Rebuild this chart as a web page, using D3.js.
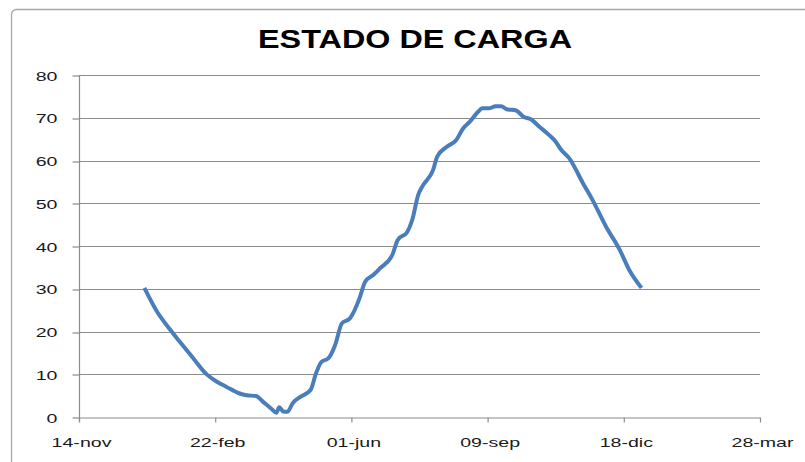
<!DOCTYPE html>
<html>
<head>
<meta charset="utf-8">
<script src="https://cdn.jsdelivr.net/npm/d3@7"></script>
<style>
  html, body { margin: 0; padding: 0; background: #fff; }
  svg { display: block; }
</style>
</head>
<body>
<script>
const title = 'ESTADO DE CARGA';

// x axis ticks (every 100 days)
const tickDates = ['2007-11-14', '2008-02-22', '2008-06-01', '2008-09-09', '2008-12-18', '2009-03-28'];
const tickLabels = ['14-nov', '22-feb', '01-jun', '09-sep', '18-dic', '28-mar'];
const yTicks = [0, 10, 20, 30, 40, 50, 60, 70, 80];

// state of charge
const dates = [
  '2008-01-01', '2008-01-10', '2008-01-20', '2008-01-27', '2008-02-07', '2008-02-15', '2008-02-23',
  '2008-03-01', '2008-03-11', '2008-03-16', '2008-03-23', '2008-03-28', '2008-04-03', '2008-04-07',
  '2008-04-09', '2008-04-12', '2008-04-15', '2008-04-19', '2008-04-24', '2008-05-02', '2008-05-06',
  '2008-05-10', '2008-05-15', '2008-05-20', '2008-05-25', '2008-05-31', '2008-06-07', '2008-06-11',
  '2008-06-17', '2008-06-22', '2008-07-01', '2008-07-05', '2008-07-12', '2008-07-16', '2008-07-20',
  '2008-07-23', '2008-07-31', '2008-08-03', '2008-08-10', '2008-08-17', '2008-08-22', '2008-08-27',
  '2008-09-02', '2008-09-05', '2008-09-10', '2008-09-15', '2008-09-19', '2008-09-23', '2008-09-30',
  '2008-10-05', '2008-10-11', '2008-10-17', '2008-10-24', '2008-10-29', '2008-11-02', '2008-11-08',
  '2008-11-18', '2008-11-25', '2008-12-05', '2008-12-15', '2008-12-22', '2008-12-31'
];
const values = [
  30.2, 24.8, 20.4, 17.6, 13.3, 10.2, 8.3,
  7.1, 5.5, 5.1, 4.9, 3.6, 2.0, 1.0,
  2.3, 1.3, 1.2, 3.3, 4.6, 6.3, 10.2,
  12.9, 13.7, 16.8, 21.9, 23.1, 27.8, 31.6,
  33.2, 34.8, 37.9, 41.4, 43.3, 46.5, 51.9,
  53.9, 57.8, 60.9, 63.2, 64.8, 67.5, 69.1,
  71.4, 72.2, 72.2, 72.7, 72.7, 72.0, 71.7,
  70.3, 69.6, 67.9, 66.0, 64.4, 62.5, 60.5,
  54.7, 50.8, 44.5, 39.1, 34.4, 30.2
];

const width = 805;
const height = 462;
const margin = { top: 75, right: 45, bottom: 45, left: 79 };
const LABEL_STRETCH = 1.45;

const parse = d3.utcParse('%Y-%m-%d');
const data = dates.map((d, i) => ({ date: parse(d), value: values[i] }));

const svg = d3.select('body')
  .append('svg')
  .attr('width', width)
  .attr('height', height);

// chart frame
svg.append('rect')
  .attr('x', 11.5)
  .attr('y', 9.5)
  .attr('width', 900)
  .attr('height', 600)
  .attr('rx', 5)
  .attr('fill', '#fff')
  .attr('stroke', '#a6a6a6')
  .attr('stroke-width', 1.3);

const x = d3.scaleUtc()
  .domain([parse(tickDates[0]), parse(tickDates[tickDates.length - 1])])
  .range([margin.left, width - margin.right]);

const y = d3.scaleLinear()
  .domain([0, 80])
  .range([height - margin.bottom, margin.top]);

svg.append('text')
  .attr('x', 415)
  .attr('y', 48)
  .attr('text-anchor', 'middle')
  .attr('font-family', 'Liberation Sans, Arial, sans-serif')
  .attr('font-weight', 'bold')
  .attr('font-size', 26)
  .attr('textLength', 314)
  .attr('lengthAdjust', 'spacingAndGlyphs')
  .attr('fill', '#000')
  .text(title);

// gridlines
svg.append('g')
  .selectAll('line')
  .data(yTicks.slice(1))
  .enter()
  .append('line')
  .attr('x1', margin.left)
  .attr('x2', width - margin.right)
  .attr('y1', d => Math.round(y(d)) + 0.5)
  .attr('y2', d => Math.round(y(d)) + 0.5)
  .attr('stroke', '#8c8c8c')
  .attr('stroke-width', 1.2);

// y axis
const yAxis = svg.append('g')
  .attr('transform', `translate(${ margin.left + 0.5 },0)`)
  .call(d3.axisLeft(y).tickValues(yTicks).tickSize(7).tickSizeOuter(0).tickFormat(d3.format('d')));

yAxis.select('.domain').attr('stroke', '#8c8c8c').attr('stroke-width', 1.2)
  .attr('d', `M0,${ y(80) }V${ y(0) + 5 }`);
yAxis.selectAll('.tick line').attr('stroke', '#8c8c8c').attr('stroke-width', 1.2)
  .attr('transform', d => `translate(0,${ Math.round(y(d)) + 0.5 - y(d) })`);
yAxis.selectAll('.tick text')
  .attr('x', null)
  .attr('dy', null)
  .attr('text-anchor', 'end')
  .attr('font-family', 'Liberation Sans, Arial, sans-serif')
  .attr('font-size', 13.5)
  .attr('fill', '#1a1a1a')
  .attr('transform', `translate(-22,5) scale(${ LABEL_STRETCH },1)`);

// x axis
const xAxis = svg.append('g')
  .attr('transform', `translate(0,${ Math.round(y(0)) + 0.5 })`)
  .call(d3.axisBottom(x)
    .tickValues(tickDates.map(parse))
    .tickSize(5)
    .tickSizeOuter(0)
    .tickFormat((d, i) => tickLabels[i]));

xAxis.select('.domain').attr('stroke', '#8c8c8c').attr('stroke-width', 1.2);
xAxis.selectAll('.tick line').attr('stroke', '#8c8c8c').attr('stroke-width', 1.2);
xAxis.selectAll('.tick text')
  .attr('y', null)
  .attr('dy', null)
  .attr('text-anchor', 'middle')
  .attr('font-family', 'Liberation Sans, Arial, sans-serif')
  .attr('font-size', 13.5)
  .attr('fill', '#1a1a1a')
  .attr('transform', `translate(2,29) scale(${ LABEL_STRETCH },1)`);

// series
const line = d3.line()
  .curve(d3.curveMonotoneX)
  .x(d => x(d.date))
  .y(d => y(d.value));

svg.append('path')
  .datum(data)
  .attr('d', line)
  .attr('fill', 'none')
  .attr('stroke', '#4a7ebb')
  .attr('stroke-width', 4)
  .attr('stroke-linejoin', 'round')
  .attr('stroke-linecap', 'butt');
</script>
</body>
</html>
